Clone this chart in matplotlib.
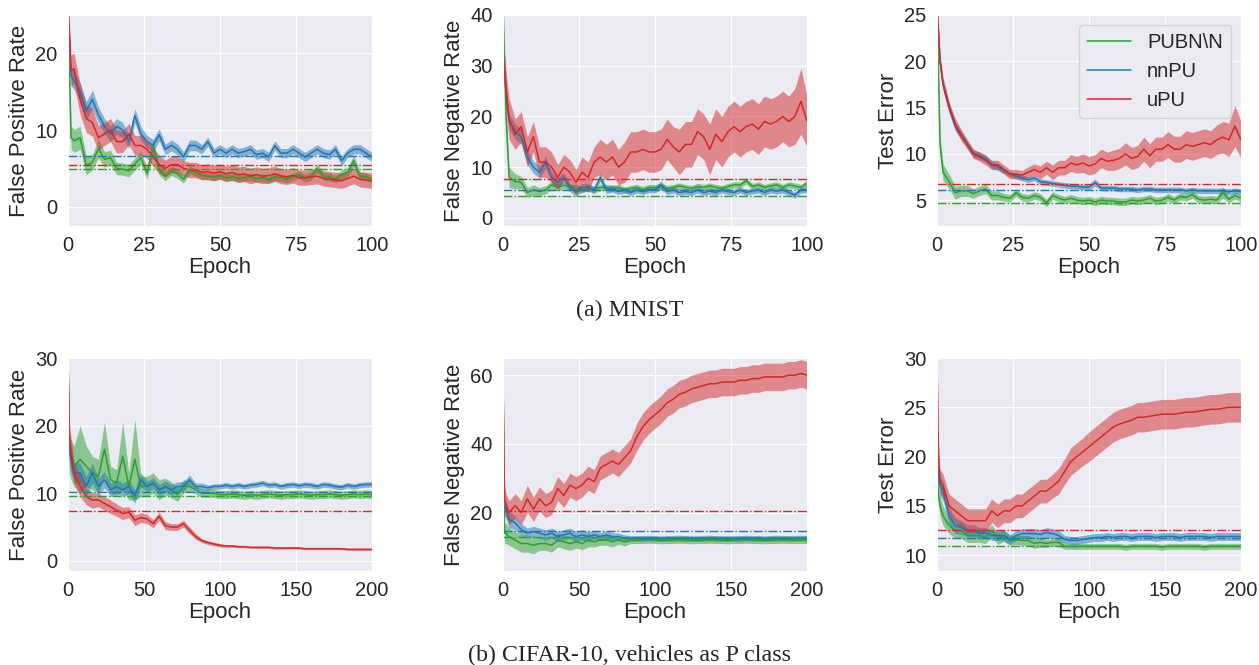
import numpy as np
import matplotlib
matplotlib.use("Agg")
import matplotlib.pyplot as plt
import seaborn as sns

sns.set_style("darkgrid")
plt.rcParams['font.family'] = ['Liberation Sans', 'DejaVu Sans']

ep_mn = [0, 1] + list(range(2, 101, 2))          # 52 points
ep_cf = [0, 1, 2] + list(range(4, 201, 4))       # 53 points

# ---------------- MNIST : false positive rate ----------------
mn_fpr_pubn = [26, 9.0, 8.6, 9.0, 5.4, 5.8, 7.6, 6.2, 6.4, 5.0,
               4.9, 4.7, 5.6, 6.4, 4.4, 7.8, 4.8, 4.0, 4.7, 4.3,
               3.6, 4.8, 4.5, 4.1, 4.0, 3.9, 4.1, 3.8, 3.9, 3.7,
               3.8, 3.9, 3.7, 3.8, 3.5, 3.9, 3.8, 3.6, 3.9, 4.2,
               3.7, 4.0, 5.0, 4.0, 3.9, 3.6, 4.2, 4.5, 6.0, 4.0,
               3.9, 3.6]
mn_fpr_pubn_sd = [2.0, 1.5, 1.5, 1.5, 1.2, 1.0, 1.2, 1.0, 1.0, 0.8,
                  0.8, 0.8, 0.8, 0.8, 0.8, 1.0, 0.7, 0.6, 0.6, 0.6,
                  0.5, 0.5, 0.5, 0.5, 0.5, 0.5, 0.5, 0.5, 0.5, 0.5,
                  0.5, 0.5, 0.5, 0.5, 0.5, 0.5, 0.5, 0.5, 0.5, 0.5,
                  0.5, 0.5, 0.6, 0.5, 0.5, 0.5, 0.6, 0.6, 0.8, 0.5,
                  0.5, 0.5]
mn_fpr_nnpu = [26, 17.0, 16.5, 15.0, 12.5, 14.0, 12.0, 10.5, 9.5, 10.5,
               10.0, 8.5, 11.9, 9.5, 8.5, 8.0, 9.4, 7.5, 8.0, 7.5,
               6.5, 8.0, 8.0, 7.5, 8.5, 7.0, 7.5, 7.0, 7.5, 7.0,
               7.2, 7.5, 6.8, 7.0, 6.5, 8.0, 7.0, 7.0, 7.5, 7.0,
               6.5, 7.0, 7.5, 7.0, 6.8, 7.5, 6.0, 7.0, 7.5, 7.5,
               7.0, 6.5]
mn_fpr_nnpu_sd = [1.5, 1.2, 1.2, 1.2, 1.2, 1.2, 1.0, 1.0, 1.0, 1.0,
                  1.0, 0.9, 0.9, 0.9, 0.8, 0.8, 0.8, 0.7, 0.7, 0.7,
                  0.7, 0.7, 0.7, 0.6, 0.6, 0.6, 0.6, 0.6, 0.6, 0.6,
                  0.6, 0.6, 0.6, 0.6, 0.6, 0.6, 0.6, 0.6, 0.6, 0.6,
                  0.6, 0.6, 0.6, 0.6, 0.6, 0.6, 0.6, 0.6, 0.6, 0.6,
                  0.6, 0.6]
mn_fpr_upu = [26, 17.8, 18.0, 14.0, 11.5, 11.0, 9.0, 9.5, 10.0, 8.5,
              8.5, 9.5, 8.0, 8.0, 7.5, 6.5, 5.5, 5.0, 5.5, 5.5,
              5.0, 4.8, 4.8, 4.5, 4.6, 4.4, 4.6, 4.3, 4.5, 4.2,
              4.3, 4.0, 4.2, 4.0, 4.1, 4.3, 4.0, 3.9, 4.1, 3.8,
              3.8, 3.9, 4.0, 3.7, 3.6, 3.5, 3.4, 3.7, 4.0, 3.6,
              3.5, 3.4]
mn_fpr_upu_sd = [2.0, 2.0, 2.0, 2.0, 1.8, 1.8, 1.6, 1.5, 1.5, 1.5,
                 1.4, 1.4, 1.3, 1.3, 1.2, 1.2, 1.2, 1.1, 1.1, 1.1,
                 1.0, 1.0, 1.0, 1.0, 1.0, 1.0, 1.0, 1.0, 1.0, 1.0,
                 1.0, 1.0, 1.0, 1.0, 1.0, 1.0, 1.0, 1.0, 1.0, 1.0,
                 1.0, 1.0, 1.0, 1.0, 1.0, 1.0, 1.0, 1.0, 1.0, 1.0,
                 1.0, 1.0]

# ---------------- MNIST : false negative rate ----------------
mn_fnr_pubn = [42, 20.0, 8.0, 7.2, 7.0, 5.0, 5.5, 5.2, 5.5, 6.5,
               6.0, 6.5, 6.0, 6.0, 5.5, 6.0, 5.5, 6.0, 6.0, 5.8,
               6.0, 5.5, 5.8, 6.0, 5.6, 6.0, 6.0, 6.2, 5.8, 6.0,
               6.3, 6.0, 5.8, 6.2, 6.0, 6.3, 6.0, 5.8, 6.2, 6.5,
               6.5, 7.3, 6.2, 6.5, 6.0, 6.3, 6.5, 6.0, 6.5, 6.3,
               6.0, 6.8]
mn_fnr_pubn_sd = [2.0, 2.0, 2.0, 1.5, 1.2, 1.0, 1.0, 0.8, 0.8, 0.8,
                  0.7, 0.7, 0.7, 0.6, 0.6, 0.6, 0.6, 0.6, 0.6, 0.6,
                  0.6, 0.6, 0.6, 0.6, 0.6, 0.6, 0.6, 0.6, 0.6, 0.6,
                  0.6, 0.6, 0.6, 0.6, 0.6, 0.6, 0.6, 0.6, 0.6, 0.6,
                  0.6, 0.6, 0.6, 0.6, 0.6, 0.6, 0.6, 0.6, 0.6, 0.6,
                  0.6, 0.6]
mn_fnr_nnpu = [33, 25, 19.0, 17.0, 16.0, 12.0, 10.0, 9.0, 11.0, 8.0,
               7.0, 8.0, 6.0, 5.0, 6.0, 6.0, 5.5, 8.0, 5.5, 5.8,
               5.2, 5.5, 5.0, 5.5, 5.2, 5.6, 5.5, 6.5, 5.2, 5.5,
               5.0, 5.2, 5.0, 5.5, 5.0, 5.3, 5.0, 5.5, 5.2, 5.0,
               5.5, 5.0, 5.3, 5.5, 5.0, 5.5, 5.3, 5.5, 5.0, 4.5,
               5.5, 5.5]
mn_fnr_nnpu_sd = [2.0, 2.0, 1.5, 1.5, 1.5, 1.5, 1.2, 1.2, 1.2, 1.0,
                  1.0, 0.9, 0.8, 0.8, 0.8, 0.7, 0.7, 0.8, 0.7, 0.7,
                  0.6, 0.6, 0.6, 0.6, 0.6, 0.6, 0.6, 0.8, 0.6, 0.6,
                  0.6, 0.6, 0.6, 0.6, 0.6, 0.6, 0.6, 0.6, 0.6, 0.6,
                  0.6, 0.6, 0.6, 0.6, 0.6, 0.6, 0.6, 0.6, 0.6, 0.6,
                  0.6, 0.6]
mn_fnr_upu = [33, 25, 19.5, 16.5, 18.0, 13.0, 16.0, 11.0, 11.0, 10.0,
              8.0, 10.0, 9.0, 7.0, 9.0, 8.0, 11.0, 12.0, 11.0, 12.0,
              10.0, 11.0, 13.0, 13.0, 13.5, 13.0, 13.0, 13.5, 15.5, 14.0,
              13.0, 14.5, 14.5, 17.0, 16.0, 13.5, 16.5, 15.0, 17.0, 18.0,
              17.0, 18.0, 18.5, 17.5, 19.0, 18.5, 19.0, 20.0, 19.0, 20.0,
              23.0, 19.0]
mn_fnr_upu_sd = [3.0, 4.0, 4.0, 3.0, 3.0, 3.0, 3.0, 3.0, 3.0, 3.0,
                 2.5, 2.5, 2.5, 2.5, 3.0, 3.0, 3.0, 3.5, 3.5, 3.5,
                 3.5, 4.0, 4.0, 4.0, 4.0, 4.0, 4.0, 4.0, 4.0, 4.0,
                 4.5, 4.5, 4.5, 4.5, 4.5, 5.0, 5.0, 5.0, 5.0, 5.0,
                 5.0, 5.0, 5.0, 5.0, 5.0, 5.0, 5.0, 5.0, 5.0, 5.5,
                 6.5, 5.0]

# ---------------- MNIST : test error ----------------
mn_err_pubn = [26, 11.0, 8.0, 7.0, 5.8, 6.0, 6.0, 5.7, 6.0, 6.2,
               5.5, 5.5, 5.3, 5.2, 5.8, 5.3, 5.2, 5.5, 5.3, 4.7,
               5.5, 5.2, 5.0, 5.2, 5.0, 4.9, 5.0, 4.8, 5.0, 4.9,
               4.9, 4.8, 4.8, 5.0, 4.9, 5.0, 5.2, 4.9, 5.0, 5.3,
               5.0, 5.4, 5.3, 5.6, 5.1, 5.0, 5.1, 5.0, 5.8, 5.1,
               5.5, 5.2]
mn_err_pubn_sd = [1.0, 1.0, 0.9, 0.8, 0.7, 0.6, 0.6, 0.5, 0.5, 0.5,
                  0.5, 0.5, 0.4, 0.4, 0.4, 0.4, 0.4, 0.4, 0.4, 0.4,
                  0.4, 0.4, 0.4, 0.4, 0.4, 0.4, 0.4, 0.4, 0.4, 0.4,
                  0.4, 0.4, 0.4, 0.4, 0.4, 0.4, 0.4, 0.4, 0.4, 0.4,
                  0.4, 0.4, 0.4, 0.4, 0.4, 0.4, 0.4, 0.4, 0.6, 0.4,
                  0.4, 0.4]
mn_err_nnpu = [26, 20.0, 17.5, 15.0, 13.0, 12.0, 11.0, 10.0, 9.8, 9.5,
               8.8, 8.6, 8.2, 7.8, 7.6, 7.4, 7.2, 7.4, 7.0, 6.9,
               6.8, 6.7, 6.6, 6.5, 6.5, 6.4, 6.4, 6.9, 6.3, 6.3,
               6.3, 6.2, 6.2, 6.2, 6.1, 6.2, 6.2, 6.1, 6.1, 6.1,
               6.1, 6.1, 6.0, 6.1, 6.0, 6.0, 6.0, 6.0, 6.0, 5.9,
               6.0, 5.9]
mn_err_nnpu_sd = [0.6, 0.5, 0.5, 0.5, 0.5, 0.4, 0.4, 0.4, 0.4, 0.4,
                  0.4, 0.4, 0.3, 0.3, 0.3, 0.3, 0.3, 0.3, 0.3, 0.3,
                  0.3, 0.3, 0.3, 0.3, 0.3, 0.3, 0.3, 0.4, 0.3, 0.3,
                  0.3, 0.3, 0.3, 0.3, 0.3, 0.3, 0.3, 0.3, 0.3, 0.3,
                  0.3, 0.3, 0.3, 0.3, 0.3, 0.3, 0.3, 0.3, 0.3, 0.3,
                  0.3, 0.3]
mn_err_upu = [26, 20.0, 17.5, 15.0, 13.2, 12.0, 11.0, 10.0, 9.7, 9.3,
              8.8, 8.8, 8.3, 7.8, 7.8, 7.7, 8.0, 8.3, 8.0, 8.5,
              8.0, 8.5, 8.5, 9.0, 8.8, 9.0, 8.7, 8.9, 9.5, 9.2,
              9.3, 9.5, 10.0, 9.5, 9.7, 10.5, 9.8, 10.5, 10.5, 11.0,
              10.5, 10.5, 11.0, 10.8, 11.0, 11.2, 11.0, 11.5, 11.8, 11.5,
              13.0, 11.5]
mn_err_upu_sd = [0.7, 0.7, 0.7, 0.6, 0.6, 0.6, 0.5, 0.5, 0.5, 0.5,
                 0.5, 0.5, 0.5, 0.5, 0.5, 0.5, 0.6, 0.6, 0.7, 0.7,
                 0.8, 0.8, 0.8, 0.9, 0.9, 1.0, 1.0, 1.0, 1.0, 1.0,
                 1.1, 1.1, 1.2, 1.2, 1.2, 1.3, 1.3, 1.3, 1.3, 1.4,
                 1.4, 1.4, 1.5, 1.5, 1.5, 1.5, 1.5, 1.6, 1.7, 1.8,
                 2.2, 2.0]

# ---------------- CIFAR-10 : false positive rate ----------------
cf_fpr_pubn = [20, 16, 15, 14, 15, 14, 13, 12.5, 16.5, 12,
               11.5, 15.5, 11.0, 15.0, 11.0, 11.0, 11.5, 10.5, 11.0, 10.5,
               9.8, 11.0, 11.0, 10.5, 10.0, 10.0, 10.0, 9.8, 9.8, 9.9,
               9.8, 9.7, 9.8, 9.7, 9.8, 9.9, 9.8, 9.7, 9.8, 9.8,
               9.9, 9.8, 9.7, 9.8, 9.8, 9.9, 9.8, 9.7, 9.8, 9.9,
               9.8, 9.9, 9.8]
cf_fpr_pubn_sd = [3.0, 3.0, 3.0, 3.0, 5.0, 3.0, 2.5, 2.5, 4.0, 2.0,
                  2.0, 5.0, 2.0, 6.0, 1.5, 1.5, 1.5, 1.5, 1.2, 1.2,
                  1.0, 1.0, 0.8, 0.6, 0.6, 0.6, 0.6, 0.6, 0.6, 0.6,
                  0.6, 0.6, 0.6, 0.6, 0.6, 0.6, 0.6, 0.6, 0.6, 0.6,
                  0.6, 0.6, 0.6, 0.6, 0.6, 0.6, 0.6, 0.6, 0.6, 0.6,
                  0.6, 0.6, 0.6]
cf_fpr_nnpu = [30, 16, 15, 13, 13, 11, 13, 11, 12, 10.5,
               11, 10.5, 11, 9.5, 12, 11, 11.5, 10.5, 11, 10.5,
               11, 11, 12, 11, 11, 10.8, 11, 11, 11.2, 11,
               11.2, 11, 11.2, 11.3, 11.5, 11.2, 11.3, 11, 11.2, 11.3,
               11.1, 11.3, 11.2, 11.0, 11.3, 11.2, 11.0, 10.9, 11.2, 11.0,
               11.2, 11.3, 11.3]
cf_fpr_nnpu_sd = [2.0, 2.0, 1.8, 1.5, 1.5, 1.5, 1.5, 1.2, 1.2, 1.0,
                  1.0, 1.0, 1.0, 1.0, 1.0, 0.8, 0.8, 0.8, 0.8, 0.8,
                  0.7, 0.7, 0.7, 0.5, 0.5, 0.4, 0.4, 0.4, 0.4, 0.4,
                  0.4, 0.4, 0.4, 0.4, 0.4, 0.4, 0.4, 0.4, 0.4, 0.4,
                  0.4, 0.4, 0.4, 0.4, 0.4, 0.4, 0.4, 0.4, 0.4, 0.4,
                  0.4, 0.4, 0.4]
cf_fpr_upu = [30, 18, 16, 13, 11, 9.5, 9.0, 9.0, 8.5, 8.0,
              7.5, 7.0, 7.2, 6.0, 6.4, 6.2, 5.5, 6.6, 5.2, 5.0,
              5.0, 5.5, 4.5, 3.6, 3.0, 2.7, 2.5, 2.3, 2.2, 2.2,
              2.1, 2.1, 2.0, 2.0, 2.0, 2.0, 1.9, 1.9, 1.9, 1.9,
              1.9, 1.8, 1.8, 1.8, 1.8, 1.8, 1.8, 1.8, 1.7, 1.7,
              1.7, 1.7, 1.7]
cf_fpr_upu_sd = [2.0, 2.0, 2.0, 1.5, 1.5, 1.2, 1.2, 1.0, 1.0, 1.0,
                 0.9, 0.9, 0.8, 0.8, 0.7, 0.7, 0.6, 0.6, 0.6, 0.5,
                 0.5, 0.5, 0.5, 0.4, 0.3, 0.3, 0.25, 0.25, 0.2, 0.2,
                 0.15, 0.15, 0.15, 0.15, 0.15, 0.15, 0.15, 0.15, 0.15, 0.15,
                 0.15, 0.15, 0.15, 0.15, 0.15, 0.15, 0.15, 0.15, 0.15, 0.15,
                 0.15, 0.15, 0.15]

# ---------------- CIFAR-10 : false negative rate ----------------
cf_fnr_pubn = [60, 14, 14, 13, 12, 11, 11, 10.5, 11, 11,
               10.5, 12, 11.5, 11, 11.5, 11, 12, 11.5, 12, 12,
               11.5, 12, 11.5, 12, 12, 12, 12.1, 12, 11.9, 12,
               12, 12.1, 12, 11.9, 12, 12, 12.1, 12, 12, 11.9,
               12, 12, 12.1, 12, 12, 11.9, 12, 12, 12.1, 12,
               12, 12, 12]
cf_fnr_pubn_sd = [3.0, 3.0, 3.0, 2.5, 2.5, 2.5, 2.5, 2.5, 2.0, 2.0,
                  2.0, 2.0, 2.0, 2.0, 1.8, 1.8, 2.0, 1.5, 1.5, 1.5,
                  1.5, 1.2, 1.2, 1.0, 1.0, 1.0, 1.0, 1.0, 1.0, 1.0,
                  1.0, 1.0, 1.0, 1.0, 1.0, 1.0, 1.0, 1.0, 1.0, 1.0,
                  1.0, 1.0, 1.0, 1.0, 1.0, 1.0, 1.0, 1.0, 1.0, 1.0,
                  1.0, 1.0, 1.0]
cf_fnr_nnpu = [20, 22, 21, 18, 17, 15, 14, 14.5, 14, 13.5,
               14, 13, 13.5, 14, 13, 13.5, 13, 13.5, 13, 13.5,
               13, 13, 12.5, 12.5, 12.5, 12.5, 12.6, 12.5, 12.4, 12.5,
               12.5, 12.6, 12.5, 12.5, 12.4, 12.5, 12.6, 12.5, 12.5, 12.4,
               12.5, 12.5, 12.6, 12.5, 12.5, 12.4, 12.5, 12.6, 12.5, 12.5,
               12.5, 12.6, 12.5]
cf_fnr_nnpu_sd = [3.0, 3.0, 2.5, 2.5, 2.0, 1.8, 1.5, 1.5, 1.5, 1.5,
                  1.5, 1.5, 1.5, 1.5, 1.5, 1.5, 1.5, 1.2, 1.2, 1.2,
                  1.2, 1.0, 1.0, 0.8, 0.8, 0.8, 0.8, 0.8, 0.8, 0.8,
                  0.8, 0.8, 0.8, 0.8, 0.8, 0.8, 0.8, 0.8, 0.8, 0.8,
                  0.8, 0.8, 0.8, 0.8, 0.8, 0.8, 0.8, 0.8, 0.8, 0.8,
                  0.8, 0.8, 0.8]
cf_fnr_upu = [60, 24, 22, 20, 22, 20, 24, 21, 24, 22,
              23, 27, 25, 28, 27, 28, 30, 29, 33, 34,
              35, 34, 36, 38, 42, 45, 47, 48.5, 50, 52,
              53, 54.5, 55, 56, 56.5, 57, 57.5, 57.5, 58, 58,
              58, 58.5, 58.5, 59, 59, 59.5, 59.5, 59.5, 59.5, 60,
              60, 60.5, 60]
cf_fnr_upu_sd = [4.0, 4.0, 3.5, 3.5, 3.5, 3.5, 4.0, 3.5, 3.5, 3.5,
                 3.5, 3.5, 3.5, 3.5, 3.5, 3.5, 3.5, 3.5, 3.5, 3.5,
                 3.5, 3.5, 3.5, 3.5, 4.0, 4.0, 4.0, 4.0, 4.0, 4.0,
                 4.0, 4.0, 4.0, 4.0, 4.0, 4.0, 4.0, 4.0, 4.0, 4.0,
                 4.0, 4.0, 4.0, 4.0, 4.0, 4.0, 4.0, 4.0, 4.0, 4.0,
                 4.0, 4.0, 4.0]

# ---------------- CIFAR-10 : test error ----------------
cf_err_pubn = [20, 16, 15, 14, 13, 12.5, 12.5, 12, 12, 12,
               11.8, 12.5, 11.7, 12, 11.5, 11.6, 11.5, 11.5, 11.2, 11.3,
               11.2, 11.3, 11.3, 10.9, 10.9, 10.9, 10.9, 10.9, 10.9, 10.9,
               10.9, 10.9, 10.9, 10.8, 10.9, 10.9, 10.9, 10.9, 10.9, 10.8,
               10.9, 10.9, 10.9, 10.9, 10.9, 10.9, 10.8, 10.9, 10.9, 10.9,
               10.9, 10.9, 10.9]
cf_err_pubn_sd = [1.0, 1.0, 1.0, 1.0, 0.8, 0.8, 0.8, 0.7, 0.7, 0.7,
                  0.6, 0.6, 0.6, 0.6, 0.5, 0.5, 0.5, 0.5, 0.5, 0.5,
                  0.4, 0.4, 0.4, 0.3, 0.3, 0.3, 0.3, 0.3, 0.3, 0.3,
                  0.3, 0.3, 0.3, 0.3, 0.3, 0.3, 0.3, 0.3, 0.3, 0.3,
                  0.3, 0.3, 0.3, 0.3, 0.3, 0.3, 0.3, 0.3, 0.3, 0.3,
                  0.3, 0.3, 0.3]
cf_err_nnpu = [20, 18, 17, 16.5, 14, 13, 12.8, 12.5, 12.5, 12.2,
               12.3, 12, 12, 12, 11.6, 12, 12.2, 12.2, 12.2, 12.1,
               12.3, 12.2, 12, 11.6, 11.5, 11.5, 11.6, 11.7, 11.8, 11.8,
               11.9, 11.8, 11.9, 11.9, 11.8, 11.9, 11.9, 11.9, 11.8, 11.9,
               11.9, 11.9, 11.8, 11.9, 11.9, 11.9, 11.9, 11.8, 11.9, 11.9,
               11.9, 11.9, 11.9]
cf_err_nnpu_sd = [1.0, 1.0, 1.0, 1.0, 0.8, 0.8, 0.7, 0.6, 0.6, 0.6,
                  0.5, 0.5, 0.5, 0.5, 0.5, 0.5, 0.5, 0.5, 0.5, 0.5,
                  0.5, 0.5, 0.5, 0.4, 0.4, 0.4, 0.4, 0.4, 0.4, 0.4,
                  0.4, 0.4, 0.4, 0.4, 0.4, 0.4, 0.4, 0.4, 0.4, 0.4,
                  0.4, 0.4, 0.4, 0.4, 0.4, 0.4, 0.4, 0.4, 0.4, 0.4,
                  0.4, 0.4, 0.4]
cf_err_upu = [30, 20, 17.5, 17, 15, 14.5, 14, 13.5, 13.5, 13.5,
              13.5, 14.5, 14, 14.5, 14.5, 15, 15, 15.5, 16, 16.5,
              16.5, 17, 17.5, 18.5, 19.5, 20, 20.5, 21, 21.5, 22,
              22.5, 23, 23.3, 23.5, 23.7, 24, 24, 24.1, 24.2, 24.3,
              24.3, 24.3, 24.4, 24.5, 24.5, 24.6, 24.7, 24.8, 24.8, 24.9,
              25, 25, 25]
cf_err_upu_sd = [1.2, 1.2, 1.2, 1.2, 1.2, 1.2, 1.2, 1.2, 1.2, 1.2,
                 1.2, 1.2, 1.2, 1.2, 1.2, 1.2, 1.2, 1.2, 1.2, 1.2,
                 1.2, 1.2, 1.3, 1.3, 1.4, 1.4, 1.4, 1.5, 1.5, 1.5,
                 1.5, 1.5, 1.5, 1.5, 1.5, 1.5, 1.5, 1.5, 1.5, 1.5,
                 1.5, 1.5, 1.5, 1.5, 1.5, 1.5, 1.5, 1.5, 1.5, 1.5,
                 1.5, 1.5, 1.5]

# dash-dot reference levels (PUBN\N, nnPU, uPU)
ref_levels = {
    'mn_fpr': [4.9, 6.6, 5.5],
    'mn_fnr': [4.3, 5.4, 7.7],
    'mn_err': [4.7, 6.1, 6.7],
    'cf_fpr': [9.6, 10.2, 7.4],
    'cf_fnr': [13.0, 14.5, 20.6],
    'cf_err': [10.9, 11.7, 12.55],
}

methods = ['PUBN\\N', 'nnPU', 'uPU']
colors = ['#2ca02c', '#1f77b4', '#d62728']

panels = [
    ('mn_fpr', ep_mn, [(mn_fpr_pubn, mn_fpr_pubn_sd), (mn_fpr_nnpu, mn_fpr_nnpu_sd), (mn_fpr_upu, mn_fpr_upu_sd)],
     'False Positive Rate', (0, 100), (-2.5, 25), [0, 10, 20], [0, 25, 50, 75, 100]),
    ('mn_fnr', ep_mn, [(mn_fnr_pubn, mn_fnr_pubn_sd), (mn_fnr_nnpu, mn_fnr_nnpu_sd), (mn_fnr_upu, mn_fnr_upu_sd)],
     'False Negative Rate', (0, 100), (-1.6, 40), [0, 10, 20, 30, 40], [0, 25, 50, 75, 100]),
    ('mn_err', ep_mn, [(mn_err_pubn, mn_err_pubn_sd), (mn_err_nnpu, mn_err_nnpu_sd), (mn_err_upu, mn_err_upu_sd)],
     'Test Error', (0, 100), (2.2, 25), [5, 10, 15, 20, 25], [0, 25, 50, 75, 100]),
    ('cf_fpr', ep_cf, [(cf_fpr_pubn, cf_fpr_pubn_sd), (cf_fpr_nnpu, cf_fpr_nnpu_sd), (cf_fpr_upu, cf_fpr_upu_sd)],
     'False Positive Rate', (0, 200), (-1.5, 30), [0, 10, 20, 30], [0, 50, 100, 150, 200]),
    ('cf_fnr', ep_cf, [(cf_fnr_pubn, cf_fnr_pubn_sd), (cf_fnr_nnpu, cf_fnr_nnpu_sd), (cf_fnr_upu, cf_fnr_upu_sd)],
     'False Negative Rate', (0, 200), (3, 65), [20, 40, 60], [0, 50, 100, 150, 200]),
    ('cf_err', ep_cf, [(cf_err_pubn, cf_err_pubn_sd), (cf_err_nnpu, cf_err_nnpu_sd), (cf_err_upu, cf_err_upu_sd)],
     'Test Error', (0, 200), (8.4, 30), [10, 15, 20, 25, 30], [0, 50, 100, 150, 200]),
]

W, H = 1259, 665
fig = plt.figure(figsize=(W / 100, H / 100), dpi=100)

lefts = [68, 503, 937]
rows = [(15, 226), (358, 571)]

for i, (key, ep, series, ylab, xl, yl, yt, xt) in enumerate(panels):
    r, c = divmod(i, 3)
    top, bot = rows[r]
    ax = fig.add_axes([lefts[c] / W, 1 - bot / H, 304 / W, (bot - top) / H])
    x = np.array(ep)
    for (mean, sd), col, name in zip(series, colors, methods):
        m = np.array(mean, dtype=float)
        s = np.array(sd, dtype=float)
        ax.fill_between(x, m - s, m + s, color=col, alpha=0.5, linewidth=0)
        ax.plot(x, m, color=col, lw=1.1, label=name)
    for lvl, col in zip(ref_levels[key], colors):
        ax.axhline(lvl, color=col, lw=1.0, ls='-.')
    ax.set_xlim(*xl)
    ax.set_ylim(*yl)
    ax.set_xticks(xt)
    ax.set_yticks(yt)
    ax.tick_params(labelsize=14.5, pad=4)
    ax.set_xlabel('Epoch', fontsize=16, labelpad=1)
    ax.set_ylabel(ylab, fontsize=16, labelpad=4)
    if key == 'mn_err':
        ax.legend(loc='upper right', fontsize=14.5, handlelength=2.2)

fig.text(630 / W, 1 - 310 / H, '(a) MNIST', ha='center', va='center',
         fontsize=17.3, family='Liberation Serif')
fig.text(630 / W, 1 - 655 / H, '(b) CIFAR-10, vehicles as P class', ha='center', va='center',
         fontsize=17.3, family='Liberation Serif')

fig.savefig('out.png', dpi=100)
